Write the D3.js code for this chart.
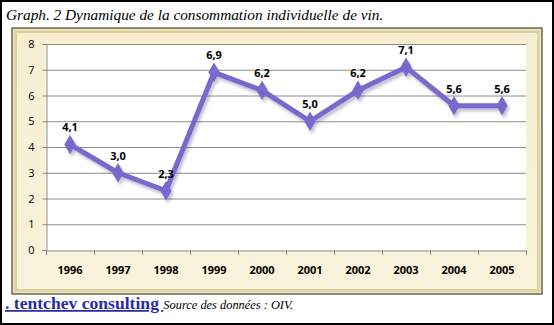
<!DOCTYPE html>
<html><head><meta charset="utf-8">
<script src="https://cdn.jsdelivr.net/npm/d3@7"></script>
<style>body{margin:0;background:#fff}svg{display:block}</style>
</head><body>
<script>
const years = ["1996","1997","1998","1999","2000","2001","2002","2003","2004","2005"];
const values = [4.1,3.0,2.3,6.9,6.2,5.0,6.2,7.1,5.6,5.6];
const yTicks = [0,1,2,3,4,5,6,7,8];
const titleText = "Graph. 2 Dynamique de la consommation individuelle de vin.";
const brandText = ". tentchev consulting ";
const sourceText = "Source des données : OIV.";

const W=554,H=325;
const svg=d3.select("body").append("svg").attr("width",W).attr("height",H);
const defs=svg.append("defs");
const g1=defs.append("linearGradient").attr("id","bg").attr("x1",0).attr("y1",0).attr("x2",0).attr("y2",1);
g1.append("stop").attr("offset","0%").attr("stop-color","#f7efd0");
g1.append("stop").attr("offset","100%").attr("stop-color","#f9f3dc");
const f=defs.append("filter").attr("id","sh").attr("x","-20%").attr("y","-20%").attr("width","140%").attr("height","140%");
f.append("feGaussianBlur").attr("stdDeviation",1.5);

svg.append("rect").attr("x",1).attr("y",1).attr("width",W-2).attr("height",H-2).attr("fill","#fff").attr("stroke","#000").attr("stroke-width",2);

svg.append("text").attr("x",6).attr("y",20).attr("font-family","Liberation Serif, DejaVu Serif, serif")
  .attr("font-style","italic").attr("font-size",15.3).attr("fill","#000").text(titleText);

const fx=12,fy=28,fw=530,fh=266;
svg.append("rect").attr("x",fx).attr("y",fy).attr("width",fw).attr("height",fh).attr("fill","#e9dfb4").attr("stroke","#6b6b5a").attr("stroke-width",1.5);
svg.append("rect").attr("x",fx+3).attr("y",fy+3).attr("width",fw-6).attr("height",fh-6).attr("fill","#d9cf9f");
svg.append("rect").attr("x",fx+5).attr("y",fy+5).attr("width",fw-10).attr("height",fh-10).attr("fill","url(#bg)");

const x=d3.scaleBand().domain(years).range([46,526]);
const y=d3.scaleLinear().domain([0,8]).range([250,44]);

svg.append("rect").attr("x",46).attr("y",44).attr("width",480).attr("height",206).attr("fill","#fff");

svg.append("g").selectAll("line").data(yTicks.filter(d=>d>0)).join("line")
  .attr("x1",46).attr("x2",526).attr("y1",d=>y(d)+0.5).attr("y2",d=>y(d)+0.5).attr("stroke","#8c8c8c").attr("stroke-width",1);

const ya=svg.append("g").attr("transform","translate(46.5,0)").call(d3.axisLeft(y).tickValues(yTicks).tickSize(4).tickPadding(8).tickFormat(d3.format("d")));
ya.select(".domain").attr("stroke","#8c8c8c");
ya.selectAll(".tick line").attr("stroke","#8c8c8c");
ya.selectAll("text").attr("font-family","Open Sans, Liberation Sans, sans-serif").attr("font-size",11).attr("fill","#000");

const xa=svg.append("g").attr("transform","translate(0,250.5)").call(d3.axisBottom(x).tickSize(0).tickPadding(16));
xa.select(".domain").attr("stroke","#8c8c8c");
xa.selectAll("text").attr("font-family","Open Sans, Liberation Sans, sans-serif").attr("font-size",11).attr("font-weight","bold").attr("fill","#000");
svg.append("g").selectAll("line").data(d3.range(years.length+1)).join("line")
  .attr("x1",i=>46.5+i*x.step()).attr("x2",i=>46.5+i*x.step()).attr("y1",250).attr("y2",255).attr("stroke","#8c8c8c");

const cx=d=>x(d)+x.bandwidth()/2;
const data=years.map((yr,i)=>({yr,v:values[i]}));
const line=d3.line().x(d=>cx(d.yr)).y(d=>y(d.v));
const diamond=d3.symbol().type(d3.symbolDiamond).size(110);

const shg=svg.append("g").attr("transform","translate(2,3)").attr("filter","url(#sh)").attr("opacity",0.35);
shg.append("path").datum(data).attr("d",line).attr("fill","none").attr("stroke","#554e80").attr("stroke-width",5);
shg.selectAll("path.m").data(data).join("path").attr("class","m").attr("d",diamond).attr("transform",d=>`translate(${cx(d.yr)},${y(d.v)})`).attr("fill","#554e80");

svg.append("path").datum(data).attr("d",line).attr("fill","none").attr("stroke","#7b68cc").attr("stroke-width",5).attr("stroke-linejoin","round");
svg.append("g").selectAll("path").data(data).join("path").attr("d",diamond)
  .attr("transform",d=>`translate(${cx(d.yr)},${y(d.v)})`).attr("fill","#7b68cc");

svg.append("g").selectAll("text").data(data).join("text")
  .attr("x",d=>cx(d.yr)).attr("y",d=>y(d.v)-13).attr("text-anchor","middle")
  .attr("font-family","Open Sans, Liberation Sans, sans-serif").attr("font-size",11).attr("font-weight","bold").attr("fill","#000")
  .text(d=>d3.format(".1f")(d.v).replace(".",","));

const ft=svg.append("text").attr("x",5).attr("y",309);
ft.append("tspan").attr("font-family","Liberation Serif, DejaVu Serif, serif").attr("font-weight","bold").attr("font-size",17.6)
  .attr("fill","#2b2ba6").attr("text-decoration","underline").style("white-space","pre").text(brandText);
ft.append("tspan").attr("font-family","Liberation Serif, DejaVu Serif, serif").attr("font-style","italic").attr("font-size",12.4).attr("fill","#000").text(sourceText);
</script>
</body></html>
